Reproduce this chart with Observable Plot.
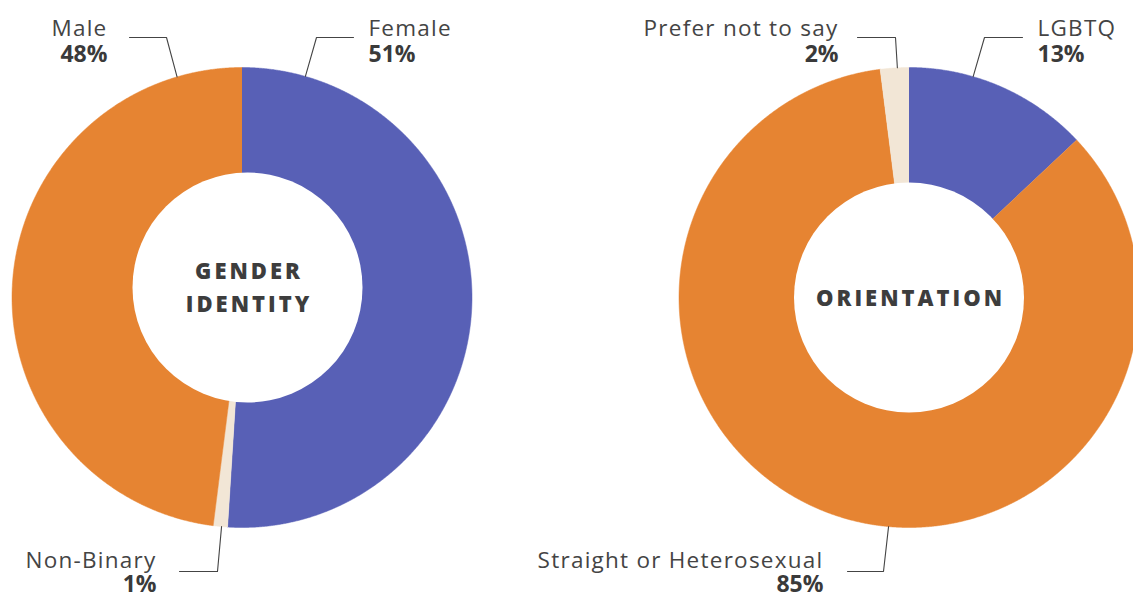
<!DOCTYPE html>
<html><head><meta charset="utf-8">
<script src="https://cdn.jsdelivr.net/npm/d3@7"></script>
<script src="https://cdn.jsdelivr.net/npm/@observablehq/plot@0.6"></script>
<style>
html,body{margin:0;padding:0;background:#fff;overflow:hidden;}
g[font-weight="800"]{letter-spacing:3px;}
g[font-weight="400"]{letter-spacing:1.25px;}
</style></head><body><div id="chart"></div>
<script>
// ---- data ----
const genderCategories = ["Female", "Non-Binary", "Male"];
const genderValues = [51, 1, 48];
const orientationCategories = ["LGBTQ", "Straight or Heterosexual", "Prefer not to say"];
const orientationValues = [13, 85, 2];
const chartTitles = ["GENDER\nIDENTITY", "ORIENTATION"];

// ---- styles ----
const BLUE = "#5860b6", ORANGE = "#e68432", CREAM = "#f2e6d6", INK = "#444444";
const colorDomain = [...genderCategories, ...orientationCategories];
const colorRange = [BLUE, CREAM, ORANGE, BLUE, ORANGE, CREAM];

// ---- layout ----
const W = 1133, H = 593;
const donuts = [
  {cats: genderCategories, vals: genderValues, title: chartTitles[0], cx: 241.5, cy: 297, r: 230, hx: 247, hy: 287, hr: 115},
  {cats: orientationCategories, vals: orientationValues, title: chartTitles[1], cx: 908.5, cy: 297, r: 230, hx: 908.5, hy: 297, hr: 115}
];
const labelLayout = {
  "Female":                   {angle: 16,    ex: 316, ey: 37,  end: 353,  tx: 368,  anchor: "start", ny: 35,  py: 61},
  "Male":                     {angle: -16.4, ex: 166, ey: 37,  end: 129,  tx: 107,  anchor: "end",   ny: 35,  py: 61},
  "Non-Binary":               {angle: 185.1, ex: 217, ey: 571, end: 179,  tx: 156,  anchor: "end",   ny: 567, py: 591},
  "LGBTQ":                    {angle: 16.2,  ex: 984, ey: 37,  end: 1022, tx: 1037, anchor: "start", ny: 35,  py: 61},
  "Prefer not to say":        {angle: -2.9,  ex: 895, ey: 37,  end: 857,  tx: 838,  anchor: "end",   ny: 35,  py: 61},
  "Straight or Heterosexual": {angle: 185.1, ex: 883, ey: 571, end: 847,  tx: 823,  anchor: "end",   ny: 567, py: 591}
};

// ---- derived geometry (from data through d3.pie) ----
const slicePts = [];
const leaderPts = [];
const labelRows = [];
for (const d of donuts) {
  const arcs = d3.pie().sort(null).value(v => v)(d.vals);
  arcs.forEach((a, i) => {
    const cat = d.cats[i];
    slicePts.push({slice: cat, x: d.cx, y: d.cy});
    const n = Math.max(4, Math.ceil((a.endAngle - a.startAngle) / 0.004));
    for (let k = 0; k <= n; k++) {
      const t = a.startAngle + (a.endAngle - a.startAngle) * k / n;
      slicePts.push({slice: cat, x: d.cx + d.r * Math.sin(t), y: d.cy - d.r * Math.cos(t)});
    }
    const L = labelLayout[cat];
    const ang = L.angle * Math.PI / 180;
    leaderPts.push({label: cat, x: d.cx + d.r * Math.sin(ang), y: d.cy - d.r * Math.cos(ang)});
    leaderPts.push({label: cat, x: L.ex, y: L.ey});
    leaderPts.push({label: cat, x: L.end, y: L.ey});
    labelRows.push({name: cat, pct: d.vals[i] + "%", ...L});
  });
}
const holes = donuts.map(d => ({x: d.hx, y: d.hy, title: d.title}));

const textMarks = [];
for (const anchor of ["start", "end"]) {
  textMarks.push(Plot.text(labelRows, {filter: r => r.anchor === anchor, x: "tx", y: "ny", text: "name",
    textAnchor: anchor, lineAnchor: "bottom", fontSize: 22.5, fontWeight: 400, fill: INK}));
  textMarks.push(Plot.text(labelRows, {filter: r => r.anchor === anchor, x: "tx", y: "py", text: "pct",
    textAnchor: anchor, lineAnchor: "bottom", fontSize: 23, fontWeight: 700, fill: "#3a3a3a"}));
}

const chart = Plot.plot({
  width: W, height: H, margin: 0,
  style: {fontFamily: "'Open Sans', sans-serif", background: "#fff"},
  x: {domain: [0, W], range: [0, W], axis: null},
  y: {domain: [0, H], range: [0, H], axis: null},
  color: {domain: colorDomain, range: colorRange},
  marks: [
    Plot.line(slicePts, {x: "x", y: "y", z: "slice", fill: "slice", stroke: "slice", strokeWidth: 0.5, curve: "linear"}),
    Plot.dot(holes, {x: "x", y: "y", r: 115, fill: "#fff", stroke: null}),
    Plot.line(leaderPts, {x: "x", y: "y", z: "label", stroke: INK, strokeWidth: 1.1}),
    ...textMarks,
    Plot.text(holes, {x: "x", y: "y", dy: -2.5, dx: 1.5, text: "title", fontSize: 22, fontWeight: 800, lineHeight: 1.52,
      lineAnchor: "middle", fill: "#3d3d3d"})
  ]
});
document.getElementById("chart").append(chart);
</script></body></html>
